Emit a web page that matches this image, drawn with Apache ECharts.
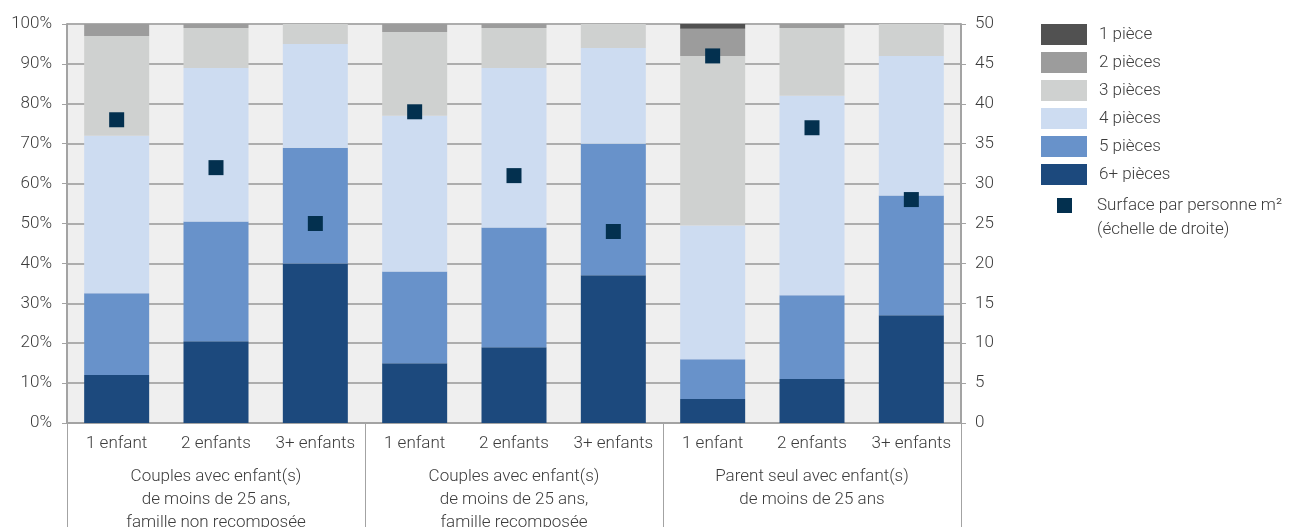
<!DOCTYPE html>
<html><head><meta charset="utf-8">
<script src="https://cdn.jsdelivr.net/npm/echarts@6/dist/echarts.min.js"></script>
<style>html,body{margin:0;padding:0;background:#fff}#c{width:1292px;height:527px}</style>
</head><body><div id="c"></div>
<script>
// ---- data ----
const categories = ['1 enfant','2 enfants','3+ enfants','1 enfant','2 enfants','3+ enfants','1 enfant','2 enfants','3+ enfants'];
const groups = [
  'Couples avec enfant(s)\nde moins de 25 ans,\nfamille non recomposée',
  'Couples avec enfant(s)\nde moins de 25 ans,\nfamille recomposée',
  'Parent seul avec enfant(s)\nde moins de 25 ans'
];
const pieces1 = [0, 0, 0, 0, 0, 0, 1.2, 0, 0];
const pieces2 = [3, 1, 0, 2, 1, 0, 6.8, 1, 0];
const pieces3 = [25, 10, 5, 21, 10, 6, 42.5, 17, 8];
const pieces4 = [39.5, 38.5, 26, 39, 40, 24, 33.5, 50, 35];
const pieces5 = [20.5, 30, 29, 23, 30, 33, 10, 21, 30];
const pieces6 = [12, 20.5, 40, 15, 19, 37, 6, 11, 27];
const surface = [38, 32, 25, 39, 31, 24, 46, 37, 28];
const legendNames = ['1 pièce','2 pièces','3 pièces','4 pièces','5 pièces','6+ pièces'];
const surfaceName = 'Surface par personne m²';
const surfaceNote = '(échelle de droite)';

// ---- styles ----
const FONT = 'Roboto';
const TXT = '#3c3c3c';
const AX = '#a3a3a3';
const colors = {
  '1 pièce': '#515151', '2 pièces': '#9c9c9c', '3 pièces': '#cfd1d0',
  '4 pièces': '#cddcf1', '5 pièces': '#6892ca', '6+ pièces': '#1c497d'
};
const stackOrder = [
  ['6+ pièces', pieces6], ['5 pièces', pieces5], ['4 pièces', pieces4],
  ['3 pièces', pieces3], ['2 pièces', pieces2], ['1 pièce', pieces1]
];

const chart = echarts.init(document.getElementById('c'), null, {renderer: 'canvas'});
const txt = {fontFamily: FONT, fontSize: 17, color: TXT, fontWeight: 300};

const series = stackOrder.map(([name, data]) => ({
  name, type: 'bar', stack: 'rooms', data, barWidth: 65,
  itemStyle: {color: colors[name]}, xAxisIndex: 0, yAxisIndex: 0
}));
series.push({
  name: surfaceName, type: 'scatter', data: surface, symbol: 'rect', symbolSize: 15,
  itemStyle: {color: '#03304f', opacity: 1}, xAxisIndex: 0, yAxisIndex: 1, z: 5
});

chart.setOption({
  animation: false,
  grid: {left: 67, right: 331, top: 24, bottom: 104, show: true, backgroundColor: '#efefef', borderWidth: 0, outerBoundsMode: 'none', containLabel: false},
  legend: [{
    data: legendNames, orient: 'vertical', left: 1041, top: 24, padding: 0,
    itemWidth: 46, itemHeight: 21, itemGap: 7, icon: 'rect',
    textStyle: Object.assign({}, txt, {padding: [4, 0, 0, 7]})
  }, {
    data: [surfaceName], orient: 'vertical', left: 1057, top: 197, padding: 0,
    itemWidth: 15, itemHeight: 15, icon: 'rect',
    itemStyle: {opacity: 1},
    textStyle: Object.assign({}, txt, {padding: [2, 0, 0, 20]})
  }],
  graphic: [{
    type: 'text', left: 1097, top: 221,
    style: {text: surfaceNote, font: '300 17px Roboto', fill: TXT}
  }],
  xAxis: [{
    type: 'category', data: categories, position: 'bottom',
    axisLine: {lineStyle: {color: AX, width: 2}},
    axisTick: {show: false},
    axisLabel: Object.assign({}, txt, {interval: 0, margin: 12})
  }, {
    type: 'category', data: groups, position: 'bottom', offset: 0,
    axisLine: {show: false},
    axisTick: {show: true, length: 110, interval: 0, lineStyle: {color: AX, width: 1}},
    axisLabel: Object.assign({}, txt, {interval: 0, margin: 42, lineHeight: 23})
  }],
  yAxis: [{
    type: 'value', min: 0, max: 100, interval: 10, position: 'left',
    axisLine: {show: true, lineStyle: {color: AX, width: 2}},
    axisTick: {show: true, length: 5, lineStyle: {color: AX, width: 1}},
    axisLabel: Object.assign({}, txt, {formatter: '{value}%', margin: 15}),
    splitLine: {show: true, lineStyle: {color: '#adadad', width: 2}}
  }, {
    type: 'value', min: 0, max: 50, interval: 5, position: 'right',
    axisLine: {show: true, lineStyle: {color: AX, width: 2}},
    axisTick: {show: true, length: 5, lineStyle: {color: AX, width: 1}},
    axisLabel: Object.assign({}, txt, {margin: 14}),
    splitLine: {show: false}
  }],
  series
});
</script>
</body></html>
